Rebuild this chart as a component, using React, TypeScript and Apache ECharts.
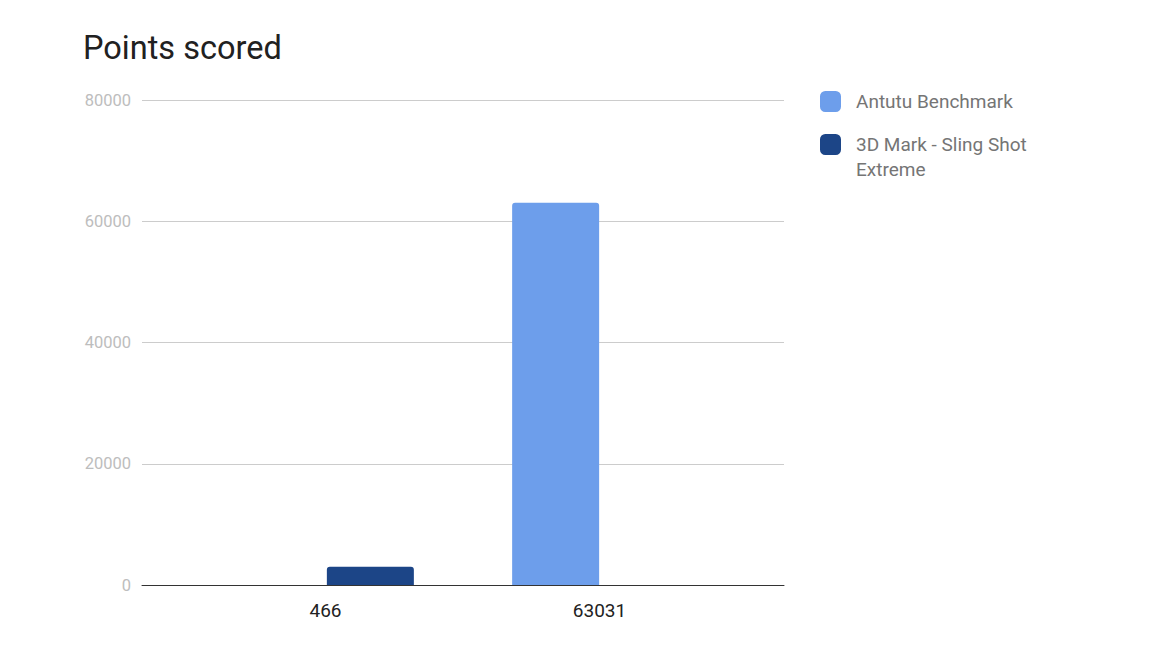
import React, { useEffect, useRef } from "react";
import * as echarts from "echarts";

const categories = ["466", "63031"];
const antutuValues: (number | string)[] = ["-", 63031];
const slingShotValues: (number | string)[] = [3000, "-"];
const seriesNames = ["Antutu Benchmark", "3D Mark - Sling Shot Extreme"];
const legendLines = ["3D Mark - Sling Shot", "Extreme"];
const colors = ["#6d9eeb", "#1c4587"];

export default function App() {
  const ref = useRef<HTMLDivElement>(null);
  useEffect(() => {
    if (!ref.current) return;
    const chart = echarts.init(ref.current, undefined, { renderer: "svg" });
    const font = "Roboto, 'Noto Sans', sans-serif";
    const legendRich = {
      t: { fontSize: 19, color: "#757575", lineHeight: 25, padding: [0, 0, 0, 10], fontFamily: font },
      e: { fontSize: 19, lineHeight: 25 },
    };
    chart.setOption({
      animation: false,
      textStyle: { fontFamily: font },
      title: {
        text: "Points scored",
        left: 83,
        top: 31,
        padding: 0,
        textStyle: { fontSize: 32.5, fontWeight: "normal", color: "#212121", fontFamily: font },
      },
      legend: [
        {
          data: [seriesNames[0]],
          orient: "vertical",
          left: 820,
          top: 89,
          padding: 0,
          itemWidth: 21,
          itemHeight: 21,
          icon: "roundRect",
          selectedMode: false,
          formatter: (n: string) => `{t|${n}}`,
          textStyle: { fontSize: 19, color: "#757575", lineHeight: 25, rich: legendRich, fontFamily: font },
        },
        {
          data: [seriesNames[1]],
          orient: "vertical",
          left: 820,
          top: 107,
          padding: 0,
          itemWidth: 21,
          itemHeight: 21,
          icon: "roundRect",
          selectedMode: false,
          formatter: () => `{e| }\n{t|${legendLines[0]}}\n{t|${legendLines[1]}}`,
          textStyle: { fontSize: 19, color: "#757575", lineHeight: 25, rich: legendRich, fontFamily: font },
        },
      ],
      grid: { left: 142, right: 387, top: 100, bottom: 69 },
      xAxis: {
        type: "category",
        data: categories,
        axisLine: { show: true, lineStyle: { color: "#333", width: 1 } },
        axisTick: { show: false },
        axisLabel: {
          margin: 16,
          formatter: (v: string) => (v === categories[0] ? `{a|${v}}` : `{b|${v}}`),
          rich: {
            a: { fontSize: 19, color: "#222", padding: [0, 0, 0, 46], fontFamily: font },
            b: { fontSize: 19, color: "#222", padding: [0, 48, 0, 0], fontFamily: font },
          },
        },
      },
      yAxis: {
        type: "value",
        min: 0,
        max: 80000,
        interval: 20000,
        axisLine: { show: false },
        axisTick: { show: false },
        axisLabel: {
          fontSize: 16.5,
          color: "#bdbdbd",
          margin: 11,
          fontFamily: font,
          formatter: (v: number) => String(v),
        },
        splitLine: { lineStyle: { color: "#cccccc", width: 1 } },
      },
      series: [
        {
          name: seriesNames[0],
          type: "bar",
          data: antutuValues,
          barWidth: 87,
          barGap: "56%",
          itemStyle: { color: colors[0], borderRadius: [3, 3, 0, 0] },
        },
        {
          name: seriesNames[1],
          type: "bar",
          data: slingShotValues,
          barWidth: 87,
          itemStyle: { color: colors[1], borderRadius: [3, 3, 0, 0] },
        },
      ],
    });
    return () => chart.dispose();
  }, []);
  return <div ref={ref} style={{ width: 1171, height: 654, position: "absolute", left: 0, top: 0 }} />;
}
